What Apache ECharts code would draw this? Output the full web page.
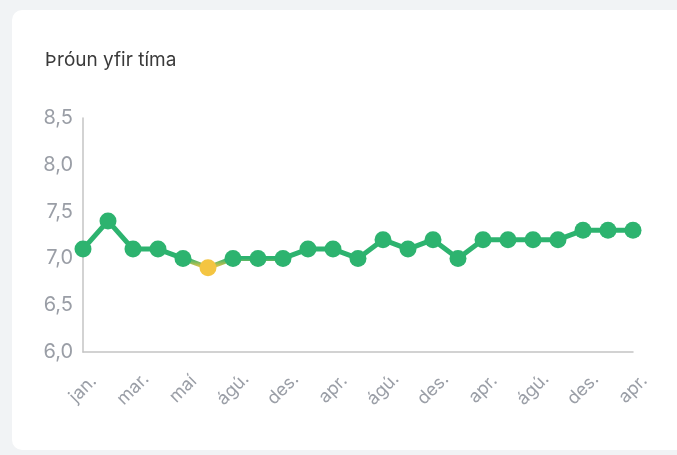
<!DOCTYPE html>
<html><head><meta charset="utf-8">
<script src="https://cdn.jsdelivr.net/npm/echarts@6/dist/echarts.min.js"></script>
<style>
html,body{margin:0;padding:0;width:677px;height:455px;background:#f1f3f5;overflow:hidden;}
#card{position:absolute;left:12px;top:10px;width:720px;height:440px;background:#fff;border-radius:10px;}
#c{position:absolute;left:0;top:0;width:677px;height:455px;}
</style></head>
<body><div id="card"></div><div id="c"></div>
<script>
const categories = ['jan.','feb.','mar.','apr.','maí','júl.','ágú.','okt.','des.','feb.','apr.','jún.','ágú.','okt.','des.','feb.','apr.','jún.','ágú.','okt.','des.','feb.','apr.'];
const values = [7.1,7.4,7.1,7.1,7.0,6.9,7.0,7.0,7.0,7.1,7.1,7.0,7.2,7.1,7.2,7.0,7.2,7.2,7.2,7.2,7.3,7.3,7.3];
const yTicks = {min:6, max:8.5, interval:0.5};
const title = 'Þróun yfir tíma';
const chart = echarts.init(document.getElementById('c'), null, {renderer:'canvas'});
chart.setOption({
  backgroundColor:'transparent',
  animation:false,
  title:{text:title,left:40,top:46,textStyle:{fontFamily:'Inter',fontSize:19,fontWeight:'normal',color:'#3a3a3a'}},
  grid:{left:83,right:44,top:118,bottom:103},
  xAxis:{type:'category',data:categories,boundaryGap:false,
    axisLine:{lineStyle:{color:'#c4c4c4',width:1.5}},axisTick:{show:false},
    axisLabel:{interval:1,rotate:45,align:'center',verticalAlign:'middle',color:'#9a9ea6',fontFamily:'Inter',fontSize:18,margin:37}},
  yAxis:{type:'value',min:yTicks.min,max:yTicks.max,interval:yTicks.interval,
    axisLine:{show:true,lineStyle:{color:'#c4c4c4',width:1.5}},axisTick:{show:false},splitLine:{show:false},
    axisLabel:{color:'#9a9ea6',fontFamily:'Inter',fontSize:20,margin:10,formatter:v=>v.toFixed(1).replace('.',',')}},
  visualMap:{show:false,type:'continuous',dimension:1,min:6.9,max:7.0,inRange:{color:['#f4c542','#2db36f']}},
  series:[{type:'line',data:values,symbol:'circle',symbolSize:17,showSymbol:true,showAllSymbol:true,lineStyle:{width:5},itemStyle:{borderWidth:0}}]
});
</script></body></html>
